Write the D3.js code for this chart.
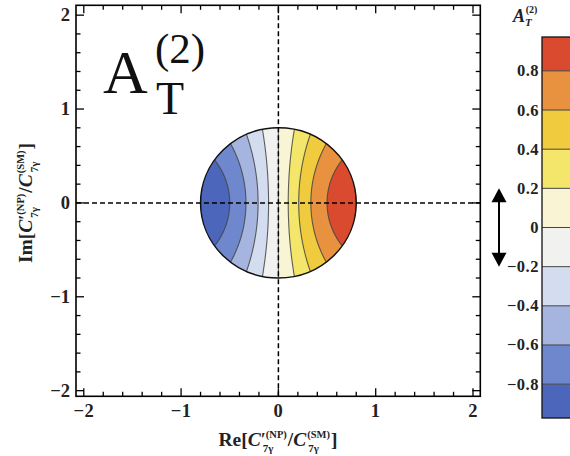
<!DOCTYPE html>
<html><head><meta charset="utf-8">
<script src="https://cdn.jsdelivr.net/npm/d3@7"></script>
<style>body{margin:0;background:#fff}svg{display:block}</style>
</head><body>
<svg id="c" width="570" height="456"></svg>
<script>
// ---------- data ----------
const xDomain = [-2.08, 2.075];
const yDomain = [-2.06, 2.105];
const majorTicks = [-2, -1, 0, 1, 2];
const tickLabels = ["−2", "−1", "0", "1", "2"];
const minorTicks = [-2,-1.8,-1.6,-1.4,-1.2,-1,-0.8,-0.6,-0.4,-0.2,0,0.2,0.4,0.6,0.8,1,1.2,1.4,1.6,1.8,2];
const levels = [-1, -0.8, -0.6, -0.4, -0.2, 0, 0.2, 0.4, 0.6, 0.8];
const bandColors = ["#4b66bb","#6f87cc","#a6b5df","#d4dcef","#f1f1ef","#f8f4d4","#f3e66a","#f0cb3d","#e8913f","#da4a2f"];
const cbTicks = [-0.8, -0.6, -0.4, -0.2, 0, 0.2, 0.4, 0.6, 0.8];
const cbTickLabels = ["−0.8","−0.6","−0.4","−0.2","0","0.2","0.4","0.6","0.8"];
const cbRange = [-0.973, 0.973];
const radius = 0.8;            // allowed region |C'/C| <= 0.8
const arrowSpan = [-0.2, 0.2];

// A_T^(2) = 2 Re(r) / (1 + |r|^2)
function AT2(re, im) { return 2 * re / (1 + re * re + im * im); }

// ---------- layout ----------
const svg = d3.select("#c");
const FONT = "'Liberation Serif', 'DejaVu Serif', serif";
const x = d3.scaleLinear().domain(xDomain).range([76, 480.3]);
const y = d3.scaleLinear().domain(yDomain).range([396.3, 5.3]);

// ---------- contour field ----------
const n = 241, g0 = -0.84, g1 = 0.84, gd = (g1 - g0) / (n - 1);
const vals = new Array(n * n);
for (let j = 0; j < n; j++) for (let i = 0; i < n; i++) {
  vals[j * n + i] = AT2(g0 + i * gd, g1 - j * gd);
}
const contours = d3.contours().size([n, n]).thresholds(levels)(vals);
const proj = d3.geoTransform({ point(px, py) {
  this.stream.point(x(g0 + (px - 0.5) * gd), y(g1 - (py - 0.5) * gd));
}});
const cpath = d3.geoPath(proj);

const defs = svg.append("defs");
defs.append("clipPath").attr("id", "circ").append("ellipse")
  .attr("cx", x(0)).attr("cy", y(0))
  .attr("rx", x(radius) - x(0)).attr("ry", y(0) - y(radius));

const cg = svg.append("g").attr("clip-path", "url(#circ)");
cg.selectAll("path.band").data(contours).join("path").attr("class", "band")
  .attr("d", cpath).attr("fill", (d, i) => bandColors[i]).attr("stroke", "none");
cg.selectAll("path.cl").data(contours.slice(1)).join("path").attr("class", "cl")
  .attr("d", cpath).attr("fill", "none").attr("stroke", "#444").attr("stroke-opacity", 0.85).attr("stroke-width", 1.1);

svg.append("ellipse")
  .attr("cx", x(0)).attr("cy", y(0))
  .attr("rx", x(radius) - x(0)).attr("ry", y(0) - y(radius))
  .attr("fill", "none").attr("stroke", "#111").attr("stroke-width", 1.5);

// dashed axes
svg.append("line").attr("x1", x(0)).attr("x2", x(0)).attr("y1", y(yDomain[0])).attr("y2", y(yDomain[1]))
  .attr("stroke", "#000").attr("stroke-width", 1.5).attr("stroke-dasharray", "5,3");
svg.append("line").attr("y1", y(0)).attr("y2", y(0)).attr("x1", x(xDomain[0])).attr("x2", x(xDomain[1]))
  .attr("stroke", "#000").attr("stroke-width", 1.5).attr("stroke-dasharray", "5,3");

// frame
svg.append("rect").attr("x", x(xDomain[0])).attr("y", y(yDomain[1]))
  .attr("width", x(xDomain[1]) - x(xDomain[0])).attr("height", y(yDomain[0]) - y(yDomain[1]))
  .attr("fill", "none").attr("stroke", "#000").attr("stroke-width", 1.6);

// ticks (inside, all four sides)
const tg = svg.append("g").attr("stroke", "#000").attr("stroke-width", 1.3);
minorTicks.forEach(v => {
  const major = Math.abs(v - Math.round(v)) < 1e-9;
  const L = major ? 8 : 4.5;
  const xb = y(yDomain[0]), xt = y(yDomain[1]);
  tg.append("line").attr("x1", x(v)).attr("x2", x(v)).attr("y1", xb).attr("y2", xb - L);
  tg.append("line").attr("x1", x(v)).attr("x2", x(v)).attr("y1", xt).attr("y2", xt + L);
  const yl = x(xDomain[0]), yr = x(xDomain[1]);
  tg.append("line").attr("y1", y(v)).attr("y2", y(v)).attr("x1", yl).attr("x2", yl + L);
  tg.append("line").attr("y1", y(v)).attr("y2", y(v)).attr("x1", yr).attr("x2", yr - L);
});

// tick labels
svg.append("g").selectAll("text").data(majorTicks).join("text")
  .attr("x", d => x(d)).attr("y", 417).attr("text-anchor", "middle")
  .attr("font-family", FONT).attr("font-size", 18.5).attr("font-weight", "bold").attr("fill", "#222")
  .attr("letter-spacing", 0.5)
  .text((d, i) => tickLabels[i]);
svg.append("g").selectAll("text").data(majorTicks).join("text")
  .attr("x", 70).attr("y", d => y(d) + 6).attr("text-anchor", "end")
  .attr("font-family", FONT).attr("font-size", 18.5).attr("font-weight", "bold").attr("fill", "#222")
  .text((d, i) => tickLabels[i]);

// math-style axis labels
function mathLabel(pre, cx, cy, rot) {
  const g = svg.append("g");
  const t = g.append("text").attr("font-family", FONT).attr("font-size", 19.5)
    .attr("font-weight", "bold").attr("fill", "#222");
  function stacked(supTxt, subTxt, prime) {
    const sub = t.append("tspan").attr("font-size", 11).attr("dx", 2).attr("dy", 6).text(subTxt);
    const subLen = sub.node().getComputedTextLength() + 2;
    let supLen = 0;
    if (prime) {
      const p = t.append("tspan").attr("font-size", 18).attr("dx", -subLen).attr("dy", -6).text("′");
      supLen += p.node().getComputedTextLength();
      const s = t.append("tspan").attr("font-size", 10.5).attr("dy", -8).text(supTxt);
      supLen += s.node().getComputedTextLength();
    } else {
      const s = t.append("tspan").attr("font-size", 10.5).attr("dx", -subLen + 1).attr("dy", -14).text(supTxt);
      supLen += s.node().getComputedTextLength() + 1;
    }
    return Math.max(0, subLen - supLen) + 1;
  }
  t.append("tspan").text(pre + "[");
  t.append("tspan").attr("font-style", "italic").text("C");
  let ex = stacked("(NP)", "7γ", true);
  t.append("tspan").attr("dy", 8).attr("dx", ex).text("/");
  t.append("tspan").attr("font-style", "italic").text("C");
  ex = stacked("(SM)", "7γ", false);
  t.append("tspan").attr("dy", 8).attr("dx", ex).text("]");
  const bb = t.node().getBBox();
  const c = bb.x + bb.width / 2;
  g.attr("transform", `translate(${cx},${cy}) rotate(${rot}) translate(${-c},0)`);
}
mathLabel("Re", 278, 446, 0);
mathLabel("Im", 32, 203, -90);

// title A_T^(2)
const title = svg.append("g").attr("font-family", FONT).attr("fill", "#111");
title.append("text").attr("x", 103).attr("y", 93).attr("font-size", 62).text("A");
title.append("text").attr("x", 156).attr("y", 114).attr("font-size", 46).text("T");
title.append("text").attr("x", 155).attr("y", 63).attr("font-size", 43).text("(2)");

// ---------- colorbar ----------
const cbx = 542, cbw = 40;
const cy = d3.scaleLinear().domain(cbRange).range([418, 37]);
const cbEdges = [cbRange[0]].concat(levels.slice(1)).concat([cbRange[1]]);
const cb = svg.append("g");
cb.selectAll("rect").data(bandColors).join("rect")
  .attr("x", cbx).attr("width", cbw)
  .attr("y", (d, i) => cy(cbEdges[i + 1])).attr("height", (d, i) => cy(cbEdges[i]) - cy(cbEdges[i + 1]))
  .attr("fill", d => d);
cb.selectAll("line.edge").data(levels.slice(1)).join("line").attr("class", "edge")
  .attr("x1", cbx).attr("x2", cbx + cbw).attr("y1", d => cy(d)).attr("y2", d => cy(d))
  .attr("stroke", "#444").attr("stroke-width", 1);
cb.append("rect").attr("x", cbx).attr("y", cy(cbRange[1])).attr("width", cbw)
  .attr("height", cy(cbRange[0]) - cy(cbRange[1])).attr("fill", "none").attr("stroke", "#111").attr("stroke-width", 1.3);
cb.selectAll("text.cbt").data(cbTicks).join("text").attr("class", "cbt")
  .attr("x", 539).attr("y", d => cy(d) + 5.5).attr("text-anchor", "end")
  .attr("font-family", FONT).attr("font-size", 16.5).attr("font-weight", "bold").attr("fill", "#222")
  .attr("letter-spacing", 0.5)
  .text((d, i) => cbTickLabels[i]);
// colorbar title
const ct = svg.append("text").attr("x", 513).attr("y", 22).attr("font-family", FONT).attr("fill", "#222")
  .attr("font-style", "italic").attr("font-weight", "bold");
ct.append("tspan").attr("font-size", 18).text("A");
ct.append("tspan").attr("font-size", 11).attr("dy", 4).text("T");
ct.append("tspan").attr("font-size", 10).attr("dx", -6).attr("dy", -13).attr("font-style", "normal").text("(2)");

// double arrow
const ax = 499, aTop = cy(arrowSpan[1]), aBot = cy(arrowSpan[0]), hh = 14, hw = 7.5;
svg.append("line").attr("x1", ax).attr("x2", ax).attr("y1", aTop + hh - 2).attr("y2", aBot - hh + 2)
  .attr("stroke", "#000").attr("stroke-width", 2);
svg.append("path").attr("d", `M${ax},${aTop} L${ax - hw},${aTop + hh} L${ax + hw},${aTop + hh} Z`).attr("fill", "#000");
svg.append("path").attr("d", `M${ax},${aBot} L${ax - hw},${aBot - hh} L${ax + hw},${aBot - hh} Z`).attr("fill", "#000");
</script>
</body></html>
